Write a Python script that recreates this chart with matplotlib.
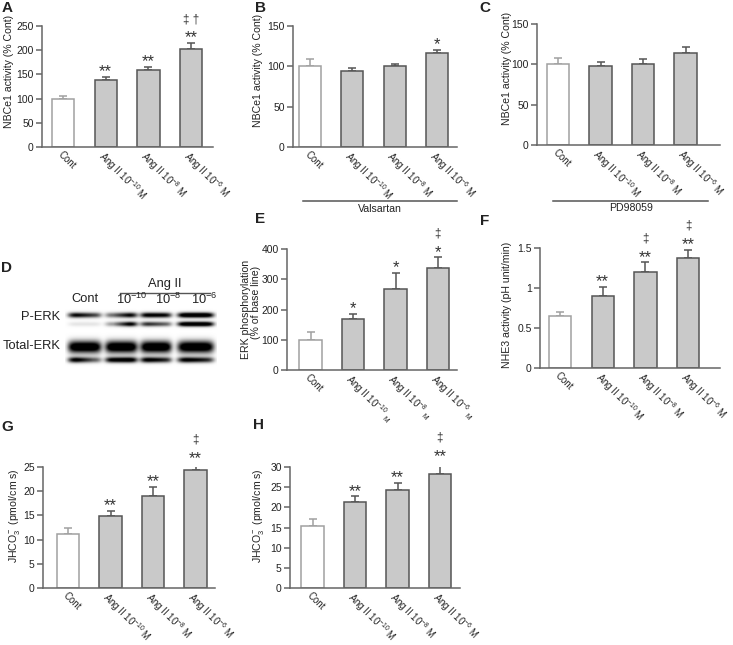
import matplotlib
matplotlib.use('Agg')
import matplotlib.pyplot as plt
from matplotlib.lines import Line2D
import numpy as np

plt.rcParams['font.family'] = ['Liberation Sans', 'DejaVu Sans']
plt.rcParams['mathtext.fontset'] = 'custom'
plt.rcParams['mathtext.rm'] = 'Liberation Sans'
plt.rcParams['mathtext.it'] = 'Liberation Sans:italic'
plt.rcParams['mathtext.bf'] = 'Liberation Sans:bold'
plt.rcParams['mathtext.default'] = 'regular'

# ---- data ----
groups = ['Cont', 'Ang II 10$^{-10}$ M', 'Ang II 10$^{-8}$ M', 'Ang II 10$^{-6}$ M']
groups_e = ['Cont', 'Ang II 10$^{-10}$ $_M$', 'Ang II 10$^{-8}$ $_M$', 'Ang II 10$^{-6}$ $_M$']

# A: NBCe1 activity (% Cont)
a_mean = [100, 138, 160, 202]
a_err = [5, 6, 6, 13]
a_star = ['', '**', '**', '**']
a_dag = ['', '', '', '\u2021 \u2020']

# B: NBCe1 activity with valsartan
b_mean = [100, 94, 101, 116]
b_err = [9, 4, 2, 4]
b_star = ['', '', '', '*']
b_dag = ['', '', '', '']

# C: NBCe1 activity with PD98059
c_mean = [100, 98, 100, 114]
c_err = [8, 5, 6, 8]
c_star = ['', '', '', '']
c_dag = ['', '', '', '']

# E: ERK phosphorylation (% of base line)
e_mean = [100, 168, 268, 337]
e_err = [25, 17, 52, 35]
e_star = ['', '*', '*', '*']
e_dag = ['', '', '', '\u2021']

# F: NHE3 activity (pH unit/min)
f_mean = [0.65, 0.90, 1.20, 1.37]
f_err = [0.05, 0.11, 0.12, 0.11]
f_star = ['', '**', '**', '**']
f_dag = ['', '', '\u2021', '\u2021']

# G: JHCO3-
g_mean = [11.1, 14.8, 19.1, 24.4]
g_err = [1.4, 1.2, 1.8, 1.3]
g_star = ['', '**', '**', '**']
g_dag = ['', '', '', '\u2021']

# H: JHCO3-
h_mean = [15.4, 21.2, 24.2, 28.2]
h_err = [1.6, 1.5, 1.8, 3.1]
h_star = ['', '**', '**', '**']
h_dag = ['', '', '', '\u2021']

# D: western blot band intensities (left/right half of each group)
blot_lanes = ['Cont', '10$^{-10}$', '10$^{-8}$', '10$^{-6}$']
perk_upper = [(0.8, 0.6), (0.45, 0.8), (0.85, 0.8), (1.0, 1.0)]
perk_lower = [(0.08, 0.08), (0.3, 0.85), (0.65, 0.5), (1.0, 1.0)]
total_upper = [(1.0, 1.0), (1.0, 1.0), (1.0, 1.0), (1.0, 1.0)]
total_lower = [(0.85, 0.5), (0.85, 0.9), (0.85, 0.7), (0.85, 0.7)]

W, H = 733, 645
fig = plt.figure(figsize=(W / 100, H / 100), dpi=100)

EDGE = '#555555'
TXT = '#222222'


def bar_panel(box, c0, d, means, errs, ymax, yticks, yticklabels, stars, dags, labels):
    s, xe, y0, yt = box
    ax = fig.add_axes([s / W, 1 - y0 / H, (xe - s) / W, (y0 - yt) / H])
    x = np.arange(len(means))
    for i in range(len(means)):
        fc = 'white' if i == 0 else '#c9c9c9'
        ec = '#a0a0a0' if i == 0 else EDGE
        ax.bar(x[i], means[i], width=0.52, color=fc, edgecolor=ec, linewidth=1.1, zorder=2)
        ax.errorbar(x[i], means[i], yerr=[[0], [errs[i]]], fmt='none', ecolor=ec,
                    elinewidth=1.1, capsize=3.2, capthick=1.1, zorder=1)
        top = means[i] + errs[i]
        if stars[i]:
            ax.annotate(stars[i], (x[i], top), xytext=(0, 0.5), textcoords='offset points',
                        ha='center', va='baseline', fontsize=12, color='#333333',
                        annotation_clip=False)
        if dags[i]:
            ax.annotate(dags[i], (x[i], top), xytext=(0, 15), textcoords='offset points',
                        ha='center', va='baseline', fontsize=8.5, color='#333333',
                        annotation_clip=False)
    ax.set_xlim((s - c0) / d, (xe - c0) / d)
    ax.set_ylim(0, ymax)
    ax.set_yticks(yticks)
    ax.set_yticklabels(yticklabels, color=TXT)
    ax.set_xticks(x + 0.0)
    ax.set_xticklabels(labels, rotation=-45, ha='left', va='top', rotation_mode='anchor',
                       color=TXT)
    for sp in ['top', 'right']:
        ax.spines[sp].set_visible(False)
    for sp in ['left', 'bottom']:
        ax.spines[sp].set_color('#666666')
        ax.spines[sp].set_linewidth(1.1)
    ax.tick_params(axis='y', length=4.5, width=1.1, color='#666666', labelsize=7.5, pad=1.5)
    ax.tick_params(axis='x', length=0, labelsize=6.9, pad=1.5)
    return ax


def ftext(px, py, s, **kw):
    fig.text(px / W, 1 - py / H, s, ha='center', va='center', color=TXT, **kw)


bar_panel((42, 213, 147, 26), 63, 42.7, a_mean, a_err, 250, [0, 50, 100, 150, 200, 250],
          ['0', '50', '100', '150', '200', '250'], a_star, a_dag, groups)
bar_panel((293, 457, 147, 26), 310, 42.3, b_mean, b_err, 150, [0, 50, 100, 150],
          ['0', '50', '100', '150'], b_star, b_dag, groups)
bar_panel((537, 720, 145, 24), 558, 42.5, c_mean, c_err, 150, [0, 50, 100, 150],
          ['0', '50', '100', '150'], c_star, c_dag, groups)
bar_panel((287, 457, 370, 249), 310.5, 42.5, e_mean, e_err, 400, [0, 100, 200, 300, 400],
          ['0', '100', '200', '300', '400'], e_star, e_dag, groups_e)
bar_panel((540, 720, 368, 248), 560, 42.7, f_mean, f_err, 1.5, [0, 0.5, 1.0, 1.5],
          ['0', '0.5', '1', '1.5'], f_star, f_dag, groups)
bar_panel((43, 215, 588, 467), 68, 42.5, g_mean, g_err, 25, [0, 5, 10, 15, 20, 25],
          ['0', '5', '10', '15', '20', '25'], g_star, g_dag, groups)
bar_panel((290, 460, 588, 467), 312.5, 42.5, h_mean, h_err, 30, [0, 5, 10, 15, 20, 25, 30],
          ['0', '5', '10', '15', '20', '25', '30'], h_star, h_dag, groups)

# y labels
ftext(9, 71, 'NBCe1 activity (% Cont)', rotation=90, fontsize=7.6)
ftext(258, 70, 'NBCe1 activity (% Cont)', rotation=90, fontsize=7.6)
ftext(507, 68, 'NBCe1 activity (% Cont)', rotation=90, fontsize=7.6)
ftext(246, 309, 'ERK phosphorylation', rotation=90, fontsize=7.6)
ftext(256, 302, '(% of base line)', rotation=90, fontsize=7.6)
ftext(507, 305, 'NHE3 activity (pH unit/min)', rotation=90, fontsize=7.6)
ftext(15, 516, 'JHCO$_3^-$ (pmol/cm s)', rotation=90, fontsize=7.6)
ftext(258, 516, 'JHCO$_3^-$ (pmol/cm s)', rotation=90, fontsize=7.6)

# brackets under B and C
fig.add_artist(Line2D([303 / W, 457 / W], [1 - 201 / H] * 2, color=EDGE, lw=1.1))
fig.add_artist(Line2D([553 / W, 708 / W], [1 - 201 / H] * 2, color=EDGE, lw=1.1))
ftext(380, 209, 'Valsartan', fontsize=7.6)
ftext(631, 208, 'PD98059', fontsize=7.6)

# panel letters
for lt, px, py in [('A', 7, 8), ('B', 260, 8), ('C', 485, 8), ('D', 7, 268),
                   ('E', 260, 219), ('F', 485, 221), ('G', 7, 427), ('H', 259, 425)]:
    ftext(px, py, lt, fontsize=11, fontweight='bold')

# ---- D: western blot ----
gx = [84.5, 121, 155.5, 195]
ghw = [16.5, 16, 15.5, 18]
xs = np.linspace(65, 216, 400)
ys = np.linspace(305, 372, 200)
XX, YY = np.meshgrid(xs, ys)
img = np.zeros_like(XX)
rows = [(perk_upper, 315, 2.6), (perk_lower, 324, 2.4), (total_upper, 347, 6.0), (total_lower, 360, 2.8)]
for vals, yc, hy in rows:
    for g in range(4):
        prof_x = np.exp(-((XX - gx[g]) / ghw[g]) ** 6)
        inten = np.interp(XX, [gx[g] - ghw[g] * 0.5, gx[g] + ghw[g] * 0.5], list(vals[g]))
        img += inten * prof_x * np.exp(-((YY - yc) / hy) ** 2)
img = np.clip(img * 1.3, 0, 1)
axb = fig.add_axes([65 / W, 1 - 372 / H, (216 - 65) / W, (372 - 305) / H])
axb.imshow(img, extent=(65, 216, 372, 305), cmap='gray_r', vmin=0, vmax=1,
           aspect='auto', interpolation='bilinear')
axb.axis('off')

ftext(165, 284, 'Ang II', fontsize=9.3)
fig.add_artist(Line2D([120 / W, 210 / W], [1 - 293 / H] * 2, color=EDGE, lw=1.0))
for lab, px in zip(blot_lanes, [85, 132, 168, 204]):
    ftext(px, 299, lab, fontsize=9.3)
ftext(41, 317, 'P-ERK', fontsize=9.3)
ftext(32, 346, 'Total-ERK', fontsize=9.3)

fig.savefig('out.png', dpi=100)
